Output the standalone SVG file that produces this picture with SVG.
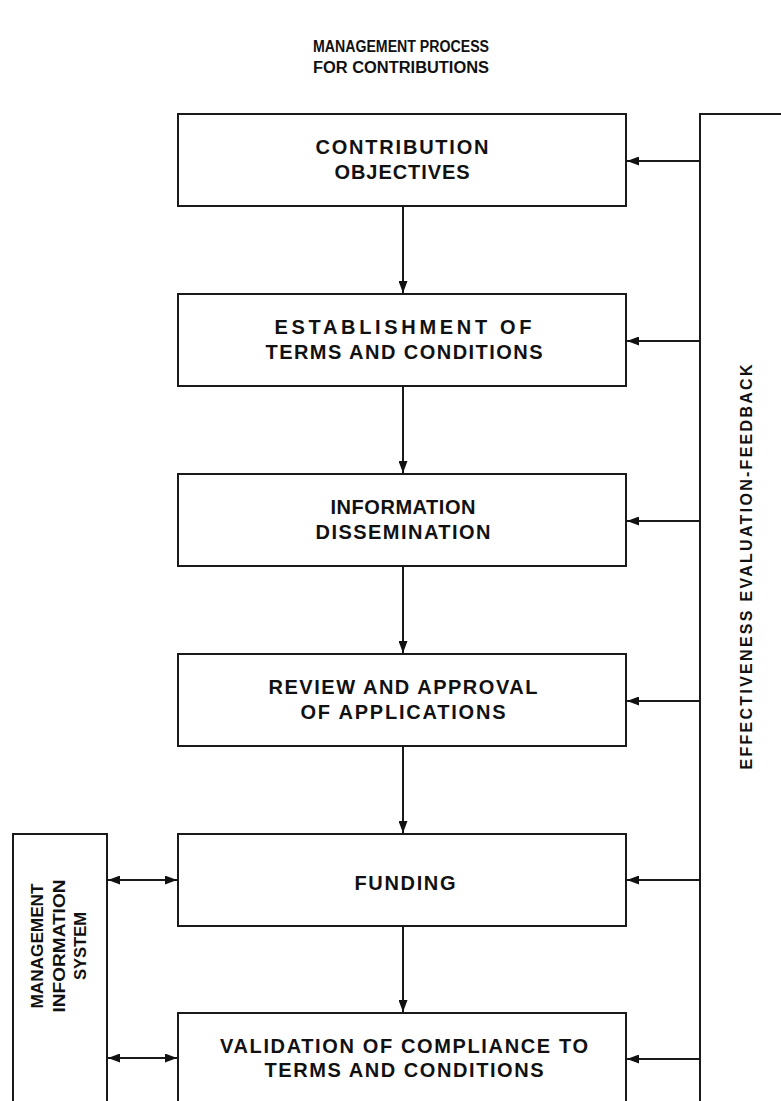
<svg xmlns="http://www.w3.org/2000/svg" width="781" height="1101" viewBox="0 0 781 1101">
  <style>
    .box { fill: #ffffff; stroke: #1a1a1a; stroke-width: 2; }
    .line { fill: none; stroke: #1a1a1a; stroke-width: 2; }
    .t { font-family: "Liberation Sans", Arial, sans-serif; font-weight: bold; font-size: 20px; fill: #111111; text-anchor: middle; }
    .ttl { font-size: 16px; }
    .mis { font-size: 17px; }
    .fb { font-size: 16px; }
  </style>
  <defs>
    <marker id="ah" viewBox="0 0 12 9" refX="12" refY="4.5" markerWidth="12" markerHeight="9" markerUnits="userSpaceOnUse" orient="auto-start-reverse">
      <path d="M0,0 L12,4.5 L0,9 Z" fill="#111111"/>
    </marker>
  </defs>
  <rect width="781" height="1101" fill="#ffffff"/>

  <g id="title">
    <text class="t ttl" x="401" y="52" textLength="176" lengthAdjust="spacingAndGlyphs">MANAGEMENT PROCESS</text>
    <text class="t ttl" x="401" y="73" textLength="176" lengthAdjust="spacingAndGlyphs">FOR CONTRIBUTIONS</text>
  </g>

  <g id="connectors">
    <line class="line" x1="403" y1="206" x2="403" y2="293" marker-end="url(#ah)"/>
    <line class="line" x1="403" y1="386" x2="403" y2="473" marker-end="url(#ah)"/>
    <line class="line" x1="403" y1="566" x2="403" y2="653" marker-end="url(#ah)"/>
    <line class="line" x1="403" y1="746" x2="403" y2="833" marker-end="url(#ah)"/>
    <line class="line" x1="403" y1="926" x2="403" y2="1012" marker-end="url(#ah)"/>
    <line class="line" x1="700" y1="161" x2="627" y2="161" marker-end="url(#ah)"/>
    <line class="line" x1="700" y1="341" x2="627" y2="341" marker-end="url(#ah)"/>
    <line class="line" x1="700" y1="521" x2="627" y2="521" marker-end="url(#ah)"/>
    <line class="line" x1="700" y1="701" x2="627" y2="701" marker-end="url(#ah)"/>
    <line class="line" x1="700" y1="880" x2="627" y2="880" marker-end="url(#ah)"/>
    <line class="line" x1="700" y1="1059" x2="627" y2="1059" marker-end="url(#ah)"/>
    <line class="line" x1="108" y1="880" x2="177" y2="880" marker-start="url(#ah)" marker-end="url(#ah)"/>
    <line class="line" x1="108" y1="1058" x2="177" y2="1058" marker-start="url(#ah)" marker-end="url(#ah)"/>
  </g>

  <g id="n1">
    <rect class="box" x="178" y="114" width="448" height="92"/>
    <text class="t" x="402" y="154" textLength="173" lengthAdjust="spacing">CONTRIBUTION</text>
    <text class="t" x="402" y="179" textLength="135" lengthAdjust="spacing">OBJECTIVES</text>
  </g>
  <g id="n2">
    <rect class="box" x="178" y="294" width="448" height="92"/>
    <text class="t" x="403" y="334" textLength="257" lengthAdjust="spacing">ESTABLISHMENT OF</text>
    <text class="t" x="404" y="359" textLength="277" lengthAdjust="spacing">TERMS AND CONDITIONS</text>
  </g>
  <g id="n3">
    <rect class="box" x="178" y="474" width="448" height="92"/>
    <text class="t" x="403" y="514" textLength="145" lengthAdjust="spacing">INFORMATION</text>
    <text class="t" x="403" y="539" textLength="175" lengthAdjust="spacing">DISSEMINATION</text>
  </g>
  <g id="n4">
    <rect class="box" x="178" y="654" width="448" height="92"/>
    <text class="t" x="403" y="694" textLength="269" lengthAdjust="spacing">REVIEW AND APPROVAL</text>
    <text class="t" x="403" y="719" textLength="205" lengthAdjust="spacing">OF APPLICATIONS</text>
  </g>
  <g id="n5">
    <rect class="box" x="178" y="834" width="448" height="92"/>
    <text class="t" x="405" y="890" textLength="101" lengthAdjust="spacing">FUNDING</text>
  </g>
  <g id="n6">
    <rect class="box" x="178" y="1013" width="448" height="110"/>
    <text class="t" x="404" y="1053" textLength="368" lengthAdjust="spacing">VALIDATION OF COMPLIANCE TO</text>
    <text class="t" x="404" y="1077" textLength="279" lengthAdjust="spacing">TERMS AND CONDITIONS</text>
  </g>
  <g id="mis">
    <path class="line" d="M13,1110 V834 H107 V1110"/>
    <g transform="translate(0,946) rotate(-90)">
      <text class="t mis" x="0" y="43" textLength="125" lengthAdjust="spacingAndGlyphs">MANAGEMENT</text>
      <text class="t mis" x="0" y="65" textLength="133" lengthAdjust="spacingAndGlyphs">INFORMATION</text>
      <text class="t mis" x="0" y="86" textLength="68" lengthAdjust="spacingAndGlyphs">SYSTEM</text>
    </g>
  </g>
  <g id="feedback">
    <path class="line" d="M700,1110 V114 H790"/>
    <g transform="translate(0,567) rotate(-90)">
      <text class="t fb" x="0" y="752" textLength="405" lengthAdjust="spacing">EFFECTIVENESS EVALUATION-FEEDBACK</text>
    </g>
  </g>
</svg>
